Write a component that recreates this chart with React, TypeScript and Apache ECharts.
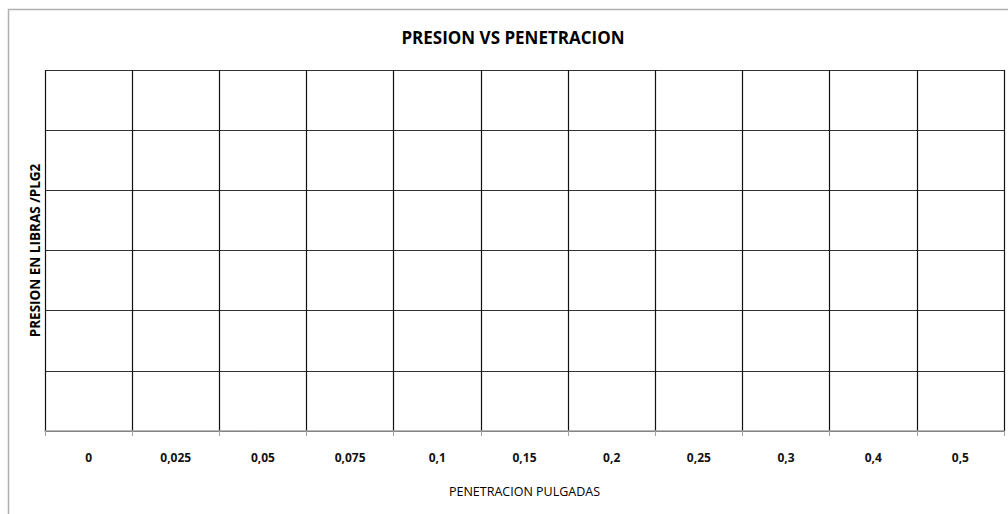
import React, { useEffect, useRef } from "react";
import * as echarts from "echarts";

const categories = ["0", "0,025", "0,05", "0,075", "0,1", "0,15", "0,2", "0,25", "0,3", "0,4", "0,5"];
const presionValues: (number | null)[] = [null, null, null, null, null, null, null, null, null, null, null];
const yMin = 0;
const yMax = 6;
const yInterval = 1;

const FONT = "'Open Sans', 'DejaVu Sans', sans-serif";

export default function App() {
  const ref = useRef<HTMLDivElement>(null);
  useEffect(() => {
    if (!ref.current) return;
    const chart = echarts.init(ref.current, undefined, { renderer: "svg" });
    chart.setOption({
      animation: false,
      backgroundColor: "#fff",
      title: {
        text: "PRESION VS PENETRACION",
        left: 508,
        top: 24,
        textAlign: "center",
        textStyle: { fontFamily: FONT, fontSize: 17, fontWeight: "bold", color: "#000" },
      },
      graphic: [
        {
          type: "rect",
          shape: { x: 8.5, y: 9.5, width: 1020, height: 530 },
          style: { fill: "none", stroke: "#b0b0b0", lineWidth: 1.5 },
          silent: true,
          z: -10,
        },
      ],
      grid: { left: 45, right: 4, top: 70, bottom: 83, containLabel: false },
      xAxis: {
        type: "category",
        data: categories,
        boundaryGap: true,
        z: 5,
        name: "PENETRACION PULGADAS",
        nameLocation: "middle",
        nameGap: 54,
        nameTextStyle: { fontFamily: FONT, fontSize: 12.5, color: "#000" },
        axisLine: { show: true, lineStyle: { color: "#a0a0a0", width: 1.5 } },
        axisTick: { show: true, length: 5, lineStyle: { color: "#a0a0a0", width: 1 } },
        axisLabel: { margin: 20, fontFamily: FONT, fontSize: 12, fontWeight: "bold", color: "#111" },
        splitLine: { show: true, lineStyle: { color: "#111", width: 1.2 } },
      },
      yAxis: {
        type: "value",
        min: yMin,
        max: yMax,
        interval: yInterval,
        z: 1,
        name: "PRESION EN LIBRAS /PLG2",
        nameLocation: "middle",
        nameGap: 3,
        nameRotate: 90,
        nameTextStyle: { fontFamily: FONT, fontSize: 13.5, fontWeight: "bold", color: "#000" },
        axisLine: { show: false },
        axisTick: { show: false },
        axisLabel: { show: false },
        splitLine: { show: true, lineStyle: { color: "#333", width: 1.2 } },
      },
      series: [
        {
          type: "line",
          data: presionValues,
          showSymbol: false,
        },
      ],
    });
    return () => chart.dispose();
  }, []);
  return (
    <div
      ref={ref}
      style={{ position: "fixed", left: 0, top: 0, width: 1008, height: 514 }}
    />
  );
}
